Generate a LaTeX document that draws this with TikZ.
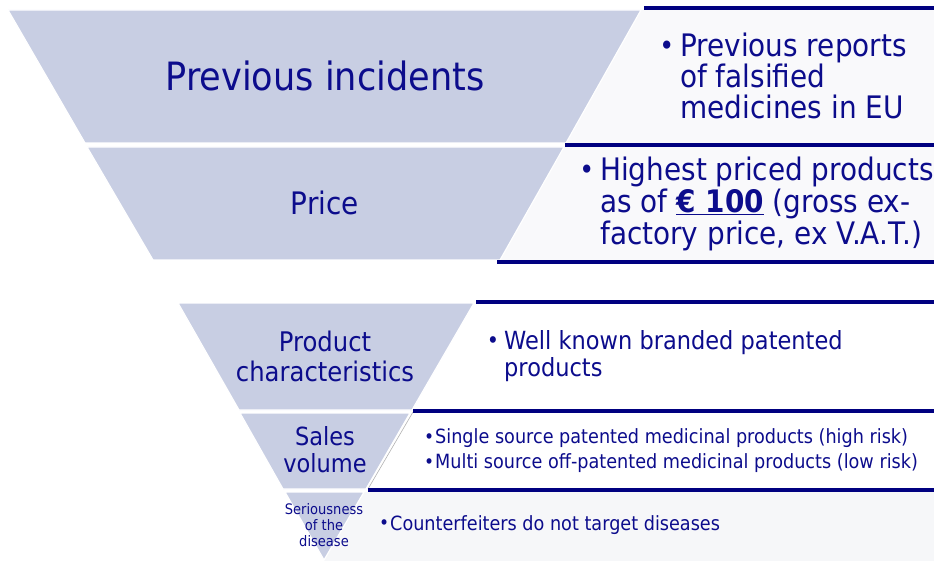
\documentclass[tikz,border=0pt]{standalone}
\usepackage{fontspec}
\setmainfont{DejaVu Sans}[FakeStretch=0.9]
\definecolor{funnel}{RGB}{200,206,227}
\definecolor{navytext}{RGB}{12,12,140}
\definecolor{navyline}{RGB}{0,0,128}
\definecolor{panelbg}{RGB}{249,249,251}
\definecolor{panelbgb}{RGB}{246,247,249}
\tikzset{
  funnelpart/.style={fill=funnel, draw=white, line width=1.2pt},
  rule/.style={draw=navyline, line width=3.2pt},
  lbl/.style={text=navytext, align=center, inner sep=0pt},
  bul/.style={text=navytext, align=left, inner sep=0pt, anchor=west},
}
\newcommand{\fs}[2]{\fontsize{#1}{#2}\selectfont}
\begin{document}
\begin{tikzpicture}[x=1pt,y=-1pt]
\useasboundingbox (0,0) rectangle (934,561);
% panel backgrounds
\fill[panelbg] (641,10) -- (934,10) -- (934,143) -- (566,143) -- cycle;
\fill[panelbg] (564,147) -- (934,147) -- (934,261) -- (500,261) -- cycle;
\fill[panelbgb] (364,492) -- (934,492) -- (934,561) -- (324,561) -- cycle;
% funnel parts
\filldraw[funnelpart] (8,10) -- (641,10) -- (566,143) -- (85,143) -- cycle;
\filldraw[funnelpart] (87,147) -- (564,147) -- (500,260) -- (153,260) -- cycle;
\filldraw[funnelpart] (178,303) -- (474,303) -- (412,410) -- (239,410) -- cycle;
\filldraw[funnelpart] (240,413) -- (410,413) -- (366,489) -- (283,489) -- cycle;
\filldraw[funnelpart] (285,492) -- (364,492) -- (324,560) -- cycle;
% thin slanted edge of the sales panel
\coordinate (s1) at (413,412);
\coordinate (s2) at (368,489);
\draw[gray!60, line width=0.6pt] (s1) -- (s2);
% rules
\coordinate (r1a) at (644,8);   \coordinate (r1b) at (934,8);
\coordinate (r2a) at (565,145); \coordinate (r2b) at (934,145);
\coordinate (r3a) at (497,262); \coordinate (r3b) at (934,262);
\coordinate (r4a) at (476,302); \coordinate (r4b) at (934,302);
\coordinate (r5a) at (413,411); \coordinate (r5b) at (934,411);
\coordinate (r6a) at (368,490); \coordinate (r6b) at (934,490);
\draw[rule] (r1a) -- (r1b);
\draw[rule] (r2a) -- (r2b);
\draw[rule] (r3a) -- (r3b);
\draw[rule] (r4a) -- (r4b);
\draw[rule] (r5a) -- (r5b);
\draw[rule] (r6a) -- (r6b);
% funnel labels
\node[lbl, font=\fs{39}{40}] (l1) at (325,76) {Previous incidents};
\node[lbl, font=\fs{31}{33}] (l2) at (325,203) {Price};
\node[lbl, font=\fs{27}{30}] (l3) at (325,356) {Product\\characteristics};
\node[lbl, font=\fs{25}{27}] (l4) at (325,450) {Sales\\volume};
\node[lbl, font=\fs{14.5}{16}] (l5) at (324,525) {Seriousness\\of the\\disease};
% panel texts
\node[bul, font=\fs{31}{31}] (t1) at (680,76)
  {\llap{\fs{28}{28}\raisebox{1pt}{•}\hspace{6pt}}Previous reports\\of falsified\\medicines in EU};
\node[bul, font=\fs{31}{32}] (t2) at (600,204)
  {\llap{\fs{28}{28}\raisebox{1pt}{•}\hspace{6pt}}Highest priced products\\as of \underline{\textbf{€ 100}} (gross ex-\\factory price, ex V.A.T.)};
\node[bul, font=\fs{25}{27}] (t3) at (504,356)
  {\llap{\fs{23}{23}\raisebox{1pt}{•}\hspace{5pt}}Well known branded patented\\products};
\node[bul, font=\fs{19.6}{25}] (t4) at (435,451)
  {\llap{\fs{19}{19}\raisebox{0.5pt}{•}\hspace{1pt}}Single source patented medicinal products (high risk)\\
   \llap{\fs{19}{19}\raisebox{0.5pt}{•}\hspace{1pt}}Multi source off-patented medicinal products (low risk)};
\node[bul, font=\fs{19.6}{24}] (t5) at (390,525)
  {\llap{\fs{19}{19}\raisebox{0.5pt}{•}\hspace{1pt}}Counterfeiters do not target diseases};
\end{tikzpicture}
\end{document}
